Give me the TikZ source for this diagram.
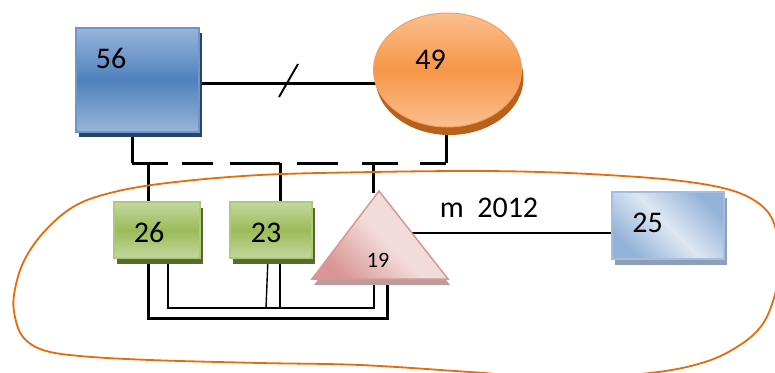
\documentclass[tikz,border=0pt]{standalone}
\usepackage{fontspec}
\setmainfont{Carlito}
\usetikzlibrary{shapes.geometric,shadows}

\definecolor{blueLight}{HTML}{98B5DA}
\definecolor{blueMid}{HTML}{4F81BD}
\definecolor{blueEdge}{HTML}{6E96CA}
\definecolor{blueShadow}{HTML}{2A4466}
\definecolor{orLight}{HTML}{FAC090}
\definecolor{orMid}{HTML}{F79646}
\definecolor{orEdge}{HTML}{F4A060}
\definecolor{orShadow}{HTML}{B9601A}
\definecolor{grLight}{HTML}{C4D79E}
\definecolor{grMid}{HTML}{9BBB59}
\definecolor{grEdge}{HTML}{AFC97C}
\definecolor{grShadow}{HTML}{556B2C}
\definecolor{pkLight}{HTML}{F2DCDB}
\definecolor{pkDark}{HTML}{D99694}
\definecolor{pkEdge}{HTML}{D99694}
\definecolor{pkShadow}{HTML}{BC9B9B}
\definecolor{skLight}{HTML}{DDE7F3}
\definecolor{skCorner}{HTML}{93B2D8}
\definecolor{skEdge}{HTML}{A3BEE0}
\definecolor{skShadow}{HTML}{8E9FB5}
\definecolor{loopOrange}{HTML}{E46C0A}

\pgfdeclarelayer{wires}
\pgfsetlayers{wires,main}

\tikzset{
  wire/.style={line width=3pt, black},
  thinwire/.style={line width=2.4pt, black},
  hairwire/.style={line width=1.4pt, black},
  num/.style={inner sep=0pt, outer sep=0pt, font=\fontsize{30}{34}\selectfont},
  smallnum/.style={inner sep=0pt, outer sep=0pt, font=\fontsize{22}{26}\selectfont},
  bluebox/.style={rectangle, inner sep=0pt, outer sep=0pt, draw=blueEdge, line width=2pt,
    top color=blueLight, bottom color=blueLight, middle color=blueMid,
    drop shadow={shadow xshift=3pt, shadow yshift=-5pt, fill=blueShadow, opacity=1}},
  orangeoval/.style={ellipse, inner sep=0pt, outer sep=0pt, draw=orEdge, line width=1pt,
    top color=orLight, bottom color=orLight, middle color=orMid,
    drop shadow={shadow xshift=2pt, shadow yshift=-8pt, fill=orShadow, opacity=1}},
  greenbox/.style={rectangle, inner sep=0pt, outer sep=0pt, draw=grEdge, line width=2pt,
    top color=grLight, bottom color=grLight, middle color=grMid,
    drop shadow={shadow xshift=3pt, shadow yshift=-6pt, fill=grShadow, opacity=1}},
  pinktri/.style={draw=pkEdge, line width=1.5pt,
    bottom color=pkDark, top color=pkLight, middle color=pkLight, shading angle=-45,
    drop shadow={shadow xshift=2pt, shadow yshift=-6pt, fill=pkShadow, opacity=1}},
  skybox/.style={rectangle, inner sep=0pt, outer sep=0pt, draw=skEdge, line width=2pt,
    bottom color=skCorner, top color=skCorner, middle color=skLight, shading angle=-45,
    drop shadow={shadow xshift=3pt, shadow yshift=-6pt, fill=skShadow, opacity=1}},
  loop/.style={draw=loopOrange, line width=1.8pt},
}

\begin{document}
\begin{tikzpicture}[x=1pt, y=-1pt]
\useasboundingbox (0,0) rectangle (775,372);

% shapes
\node[bluebox, minimum width=123pt, minimum height=104pt] (n56) at (137.5,80) {};
\node[orangeoval, minimum width=148pt, minimum height=114pt] (n49) at (447.5,70) {};
\node[greenbox, minimum width=86pt, minimum height=56pt] (n26) at (157,230) {};
\node[greenbox, minimum width=82pt, minimum height=56pt] (n23) at (271,230) {};
\node[skybox, minimum width=112pt, minimum height=67pt] (n25) at (668,225.5) {};

\coordinate (tA) at (379,191);
\coordinate (tL) at (312,279);
\coordinate (tR) at (448,279);
\path[pinktri] (tA) -- (tR) -- (tL) -- cycle;

% labels
\node[num] (t56) at (111,58.5) {56};
\node[num] (t49) at (430.5,60) {49};
\node[num] (t26) at (149,232.5) {26};
\node[num] (t23) at (266,232.5) {23};
\node[smallnum] (t19) at (378,260) {19};
\node[num] (t2012) at (489,207.5) {m\ \ 2012};
\node[num] (t25) at (647.5,222.5) {25};

% connectors, kept behind the shapes
\begin{pgfonlayer}{wires}
  % 56 -- 49 with a slash mark
  \draw[wire] ([yshift=-3pt]n56.east) -- ([yshift=-3pt]n56.east -| n49.center);
  \coordinate (sl) at (288.5,80.5);
  \draw[line width=1.9pt] ([shift={(-9.5,16.5)}]sl) -- ([shift={(9.5,-16.5)}]sl);

  % dashed bus between 56 and 49
  \coordinate (dL) at (132,163);
  \coordinate (dR) at (446,163);
  \draw[wire] (dL) -- (dL |- n56.south);
  \draw[wire] (dR) -- (dR |- n49.south);
  \draw[wire, line cap=butt,
        dash pattern=on 36pt off 14pt on 31pt off 17pt on 50pt off 17pt on 41pt off 24pt on 36pt off 22pt on 30pt]
        (dL) -- (dR);

  % drops from the bus
  \coordinate (j26) at (148,163);
  \coordinate (j23) at (280,163);
  \coordinate (j19) at (373,163);
  \draw[wire] (j26) -- (j26 |- n26.north);
  \draw[wire] (j23) -- (j23 |- n23.north);
  \draw[wire] (j19) -- ([yshift=-2pt]j19 |- tA);

  % 19 -- 25
  \coordinate (m1) at (379,233);
  \draw[thinwire] (m1) -- (m1 -| n25.west);

  % lower wiring between 26, 23 and 19
  \coordinate (o1) at (148,318);
  \coordinate (o2) at (387,318);
  \draw[wire] (o1 |- n26.south) -- (o1) -- (o2) -- (o2 |- tL);
  \coordinate (i1) at (168,308);
  \coordinate (i2) at (374,308);
  \draw[thinwire] (i1 |- n26.south) -- (i1) -- (i2) -- (i2 |- tL);
  \coordinate (i3) at (280,308);
  \draw[thinwire] (i3 |- n23.south) -- (i3);
  \coordinate (s2) at (266,308);
  \draw[hairwire] ([xshift=-3pt]n23.south) -- (s2);
\end{pgfonlayer}

% the enclosing boundary
\draw[loop] plot[smooth cycle, tension=0.6] coordinates {
  (43,233) (73,207) (110,193) (167,183) (260,175) (373,172) (470,171)
  (540,172) (607,175) (673,180) (723,188) (752,199) (770,215) (778,240)
  (779,270) (774,298) (762,325) (740,345) (705,362) (650,373) (560,378)
  (470,372) (360,365) (260,363) (150,360) (80,356) (43,350) (23,337)
  (15,317) (14,295) (23,263)};
\end{tikzpicture}
\end{document}
